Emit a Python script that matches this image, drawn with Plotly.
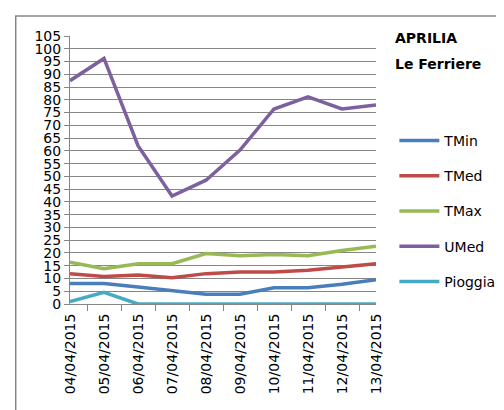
"""Daily weather series for Aprilia - Le Ferriere"""

import plotly.graph_objects as go

dates = ["04/04/2015", "05/04/2015", "06/04/2015", "07/04/2015", "08/04/2015",
         "09/04/2015", "10/04/2015", "11/04/2015", "12/04/2015", "13/04/2015"]

tmin = [8, 8, 6.7, 5.4, 3.8, 3.8, 6.4, 6.4, 7.7, 9.5]
tmed = [11.9, 10.8, 11.4, 10.3, 11.9, 12.5, 12.5, 13.2, 14.5, 15.8]
tmax = [16.4, 13.8, 15.8, 15.8, 19.8, 18.9, 19.4, 18.9, 21, 22.6]
umed = [87.5, 96.2, 62, 42.3, 48.5, 60.3, 76.4, 81.2, 76.4, 78]
pioggia = [1, 4.6, 0, 0, 0, 0, 0, 0, 0, 0]

y_ticks = list(range(0, 106, 5))

series = [
    ("TMin", tmin, "#4A7EBB"),
    ("TMed", tmed, "#BE4B48"),
    ("TMax", tmax, "#98B954"),
    ("UMed", umed, "#7D60A0"),
    ("Pioggia", pioggia, "#46AAC5"),
]

fig = go.Figure()

for i, (name, values, color) in enumerate(series):
    fig.add_trace(go.Scatter(
        x=dates,
        y=values,
        name=name,
        mode='lines',
        line=dict(color=color, width=3.5),
        legendgroup=f"g{i}"
    ))

font_family = "DejaVu Sans"

fig.update_layout(
    width=504,
    height=410,
    margin=dict(l=62, r=132, t=28, b=114),
    paper_bgcolor='white',
    plot_bgcolor='white',
    font=dict(family=font_family, size=14, color='#000000'),
    showlegend=True,
    legend=dict(
        x=1.06, y=0.668, xanchor='left', yanchor='top',
        tracegroupgap=14,
        itemwidth=40,
        font=dict(size=14),
        bgcolor='rgba(0,0,0,0)'
    ),
    xaxis=dict(
        type='category',
        tickangle=-90,
        tickson='boundaries',
        ticks='outside',
        ticklen=6,
        tickcolor='#868686',
        showline=True,
        linecolor='#868686',
        linewidth=1,
        showgrid=False,
        ticklabelstandoff=3,
        tickfont=dict(size=14)
    ),
    yaxis=dict(
        range=[0, 105],
        tickvals=y_ticks,
        ticks='outside',
        ticklen=5,
        tickcolor='#868686',
        showline=True,
        linecolor='#868686',
        linewidth=1,
        showgrid=True,
        gridcolor='#868686',
        gridwidth=1,
        zeroline=False,
        tickfont=dict(size=14)
    ),
    annotations=[
        dict(text="<b>APRILIA</b>", x=1.057, y=0.992, xref='paper', yref='paper',
             xanchor='left', yanchor='middle', showarrow=False,
             font=dict(family=font_family, size=14, color='#000000')),
        dict(text="<b>Le Ferriere</b>", x=1.057, y=0.896, xref='paper', yref='paper',
             xanchor='left', yanchor='middle', showarrow=False,
             font=dict(family=font_family, size=14, color='#000000')),
    ],
    shapes=[
        dict(type='rect', xref='paper', yref='paper',
             x0=-0.1774, x1=1.48, y0=-0.47, y1=1.0746,
             line=dict(color='#868686', width=1.5), layer='below')
    ]
)

fig.write_html("out.html")
